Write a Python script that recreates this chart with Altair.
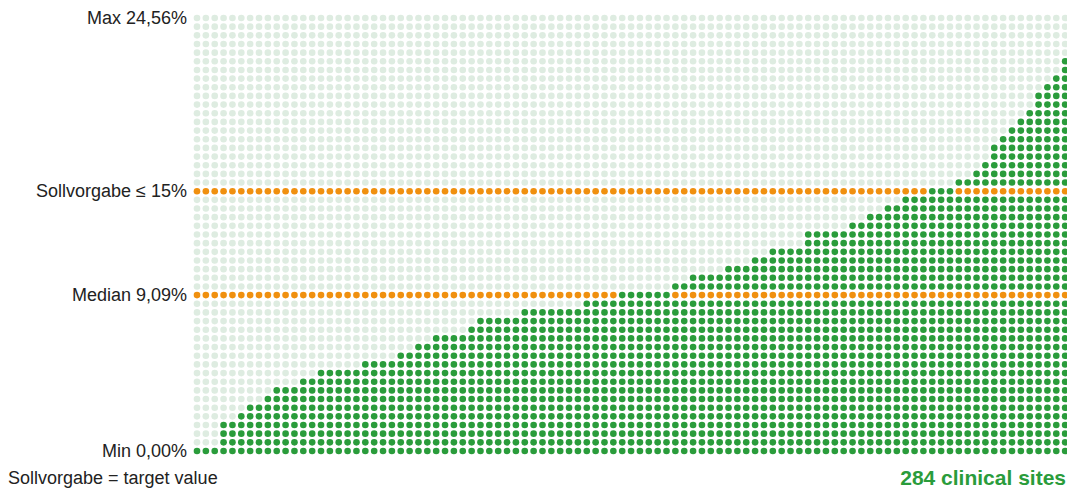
import altair as alt
import pandas as pd

# Column heights (in dot rows) of the sorted sites, left to right (100 columns)
COLUMN_HEIGHTS = (
    [0, 0, 0, 3, 3, 4, 5, 5, 6, 7, 7, 7, 8, 8]
    + [9] * 5 + [10] * 4 + [11] * 2 + [12] * 2 + [13] * 4 + [14] + [15] * 5
    + [16] * 7 + [17] * 4 + [18] * 6 + [19] * 2 + [20] * 4 + [21] * 3
    + [22] * 2 + [23] * 4 + [25] * 5 + [26] * 2 + [27] * 2 + [28] * 2
    + [29] * 3 + [30] * 3 + [31] * 2 + [32, 33, 35, 36, 37, 38, 39, 41, 42, 43, 45, 50]
)
N_ROWS = 51  # rows 0..50 (0 % .. 24,56 %)

REF_ROWS = [30, 18]  # Sollvorgabe, Median (highlighted orange)
LABEL_ROWS = [50, 30, 18, 0]
LABEL_TEXTS = ["Max 24,56%", "Sollvorgabe \u2264 15%", "Median 9,09%", "Min 0,00%"]
FOOT_LEFT = "Sollvorgabe = target value"
FOOT_RIGHT = "284 clinical sites"

GREEN = "#2a9c3b"
PALE = "#deece1"
ORANGE = "#f0900f"

records = []
for i, h in enumerate(COLUMN_HEIGHTS):
    for j in range(N_ROWS):
        if j in REF_ROWS and j != h:
            cat = "ref"
        elif j <= h:
            cat = "site"
        else:
            cat = "empty"
        records.append({"col": i, "row": j, "cat": cat})
dots = pd.DataFrame(records)
labels = pd.DataFrame({"row": LABEL_ROWS, "text": LABEL_TEXTS})

xs = alt.Scale(domain=[0, len(COLUMN_HEIGHTS) - 1], range=[189, 1066])
ys = alt.Scale(domain=[0, N_ROWS - 1], range=[443, 10])

dot_layer = alt.Chart(dots).mark_circle(size=44, opacity=1).encode(
    x=alt.X("col:Q", scale=xs, axis=None),
    y=alt.Y("row:Q", scale=ys, axis=None),
    color=alt.Color(
        "cat:N",
        scale=alt.Scale(domain=["empty", "site", "ref"], range=[PALE, GREEN, ORANGE]),
        legend=None,
    ),
)

label_layer = alt.Chart(labels).mark_text(
    align="right", baseline="middle", font="Liberation Sans", fontSize=18,
    color="#222222", dy=1
).encode(
    x=alt.value(179),
    y=alt.Y("row:Q", scale=ys, axis=None),
    text="text:N",
)

foot_left = alt.Chart(pd.DataFrame({"t": [FOOT_LEFT]})).mark_text(
    align="left", baseline="middle", font="Liberation Sans", fontSize=18, color="#222222"
).encode(x=alt.value(0), y=alt.value(471), text="t:N")

foot_right = alt.Chart(pd.DataFrame({"t": [FOOT_RIGHT]})).mark_text(
    align="right", baseline="middle", font="Liberation Sans", fontSize=21,
    fontWeight="bold", color=GREEN
).encode(x=alt.value(1058), y=alt.value(471), text="t:N")

chart = (
    alt.layer(dot_layer, label_layer, foot_left, foot_right)
    .properties(width=1059, height=481, autosize=alt.AutoSizeParams(type="none"), padding=0)
    .configure_view(stroke=None)
)

chart.save("out.html", embed_options={"renderer": "svg", "actions": False})
